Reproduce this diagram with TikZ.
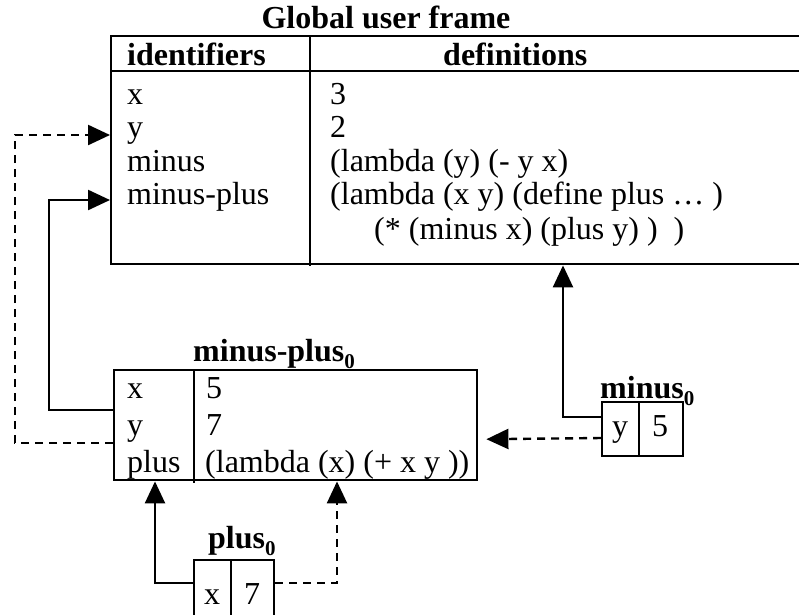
\documentclass[tikz,border=0pt]{standalone}
\usepackage{fontspec}
\setmainfont{Liberation Serif}
\usetikzlibrary{arrows.meta}
\newcommand{\zsub}{\raisebox{-0.22em}{\fontsize{21}{21}\selectfont 0}}
\begin{document}
\begin{tikzpicture}[x=1pt,y=-1pt,
  box/.style={draw, line width=2.4pt, rectangle, inner sep=0pt, anchor=north west},
  rule/.style={line width=2.4pt},
  txt/.style={anchor=base west, inner sep=0pt, font=\fontsize{32}{36}\selectfont},
  hdr/.style={anchor=base west, inner sep=0pt, font=\fontsize{32}{36}\selectfont\bfseries},
  link/.style={line width=2.4pt, -{Triangle[length=22pt,width=20pt]}},
  dlink/.style={link, dash pattern=on 8pt off 6pt}]
\useasboundingbox (0,0) rectangle (799,614);
\clip (0,0) rectangle (799,614);

% Global user frame
\node[box, minimum width=700pt, minimum height=228pt] (gf) at (110,35) {};
\draw[rule] (110,71) -- (812,71);
\draw[rule] (310,35) -- (310,266);
\node[hdr, anchor=base] (gft) at (386,28) {Global user frame};
\node[hdr] (gfh1) at (127,65) {identifiers};
\node[hdr] (gfh2) at (443,65) {definitions};
\node[txt] (g1a) at (127,104) {x};
\node[txt] (g1b) at (330,104) {3};
\node[txt] (g2a) at (127,137.5) {y};
\node[txt] (g2b) at (330,137.5) {2};
\node[txt] (g3a) at (127,171) {minus};
\node[txt] (g3b) at (330,171) {(lambda (y) (- y x)};
\node[txt] (g4a) at (127,204.5) {minus-plus};
\node[txt] (g4b) at (330,204.5) {(lambda (x y) (define plus … )};
\node[txt] (g5b) at (374,239) {(* (minus x) (plus y) )\ \ )};

% minus-plus_0 frame
\node[box, minimum width=363pt, minimum height=110pt] (mp) at (113,369) {};
\draw[rule] (194,369) -- (194,483);
\node[hdr] (mpt) at (193,361) {minus-plus\zsub};
\node[txt] (m1a) at (127,398) {x};
\node[txt] (m1b) at (206,398) {5};
\node[txt] (m2a) at (127,435) {y};
\node[txt] (m2b) at (206,435) {7};
\node[txt] (m3a) at (127,472) {plus};
\node[txt] (m3b) at (205,472) {(lambda (x) (+ x y ))};

% minus_0 frame
\node[box, minimum width=81pt, minimum height=54pt] (mn) at (601,401) {};
\draw[rule] (639,401) -- (639,455);
\node[hdr] (mnt) at (600,398) {minus\zsub};
\node[txt, anchor=base] (n1a) at (620,436) {y};
\node[txt, anchor=base] (n1b) at (660,436) {5};

% plus_0 frame
\node[box, minimum width=80pt, minimum height=90pt] (pl) at (193,559) {};
\draw[rule] (231,559) -- (231,650);
\node[hdr] (plt) at (208,548) {plus\zsub};
\node[txt, anchor=base] (p1a) at (212,604) {x};
\node[txt, anchor=base] (p1b) at (252,604) {7};

% connectors
\draw[link] ([yshift=-41pt]mp.north west) -- ++(-64,0) |- ([yshift=-165pt]gf.north west);
\draw[dlink] ([yshift=-74pt]mp.north west) -- ++(-98,0) |- ([yshift=-100pt]gf.north west);
\draw[link] ([yshift=-16pt]mn.north west) -| ([xshift=453pt]gf.south west);
\draw[dlink] ([yshift=-37pt]mn.north west) -- ([xshift=8pt,yshift=-14pt]mp.east);
\draw[link] ([yshift=-24pt]pl.north west) -| ([xshift=42pt]mp.south west);
\draw[dlink] ([yshift=-24pt]pl.north east) -| ([xshift=224pt]mp.south west);
\end{tikzpicture}
\end{document}
